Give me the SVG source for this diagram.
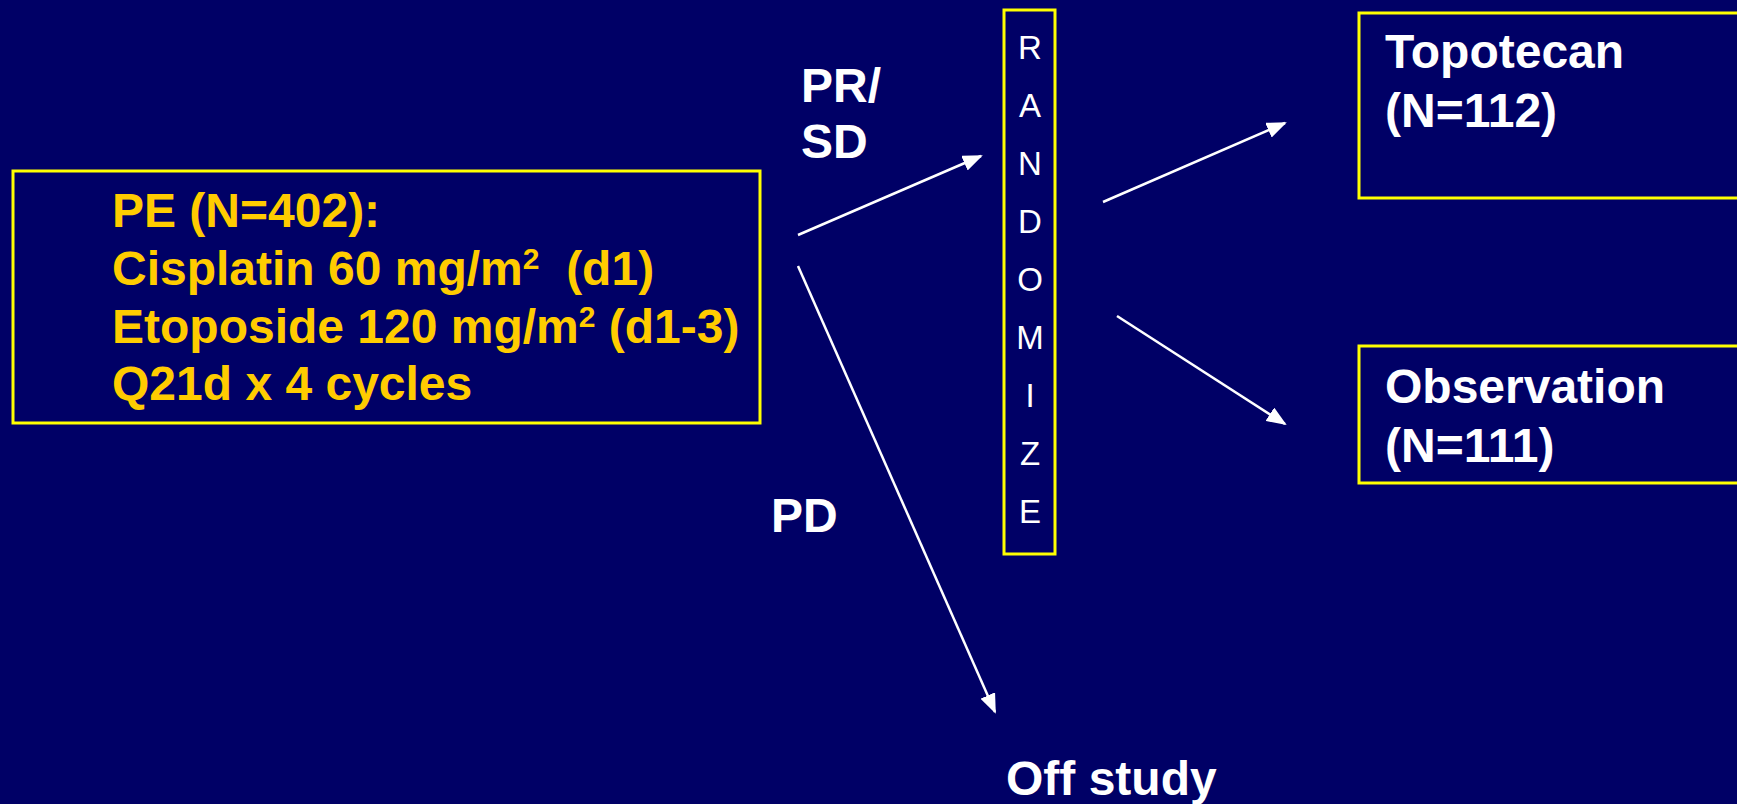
<svg xmlns="http://www.w3.org/2000/svg" width="1737" height="804" viewBox="0 0 1737 804">
<defs>
<style>
.box{fill:none;stroke:#FFFF00;stroke-width:3}
.y{font-family:"Liberation Sans",Arial,sans-serif;font-weight:bold;font-size:48px;fill:#FFCC00}
.w{font-family:"Liberation Sans",Arial,sans-serif;font-weight:bold;font-size:48px;fill:#FFFFFF}
.r{font-family:"Liberation Sans",Arial,sans-serif;font-size:33px;fill:#FFFFFF;text-anchor:middle}
.c{stroke:#FFFFFF;stroke-width:2.5;fill:none}
</style>
<marker id="ah" viewBox="0 0 20 16" refX="18" refY="8" markerWidth="20" markerHeight="16" markerUnits="userSpaceOnUse" orient="auto">
<path d="M0,0 L20,8 L0,16 z" fill="#FFFFFF"/>
</marker>
</defs>
<rect x="0" y="0" width="1737" height="804" fill="#000066"/>
<g id="pe">
<rect class="box" x="13" y="171" width="747" height="252"/>
<text class="y" x="112" y="227">PE (N=402):</text>
<text class="y" x="112" y="285" xml:space="preserve">Cisplatin 60 mg/m<tspan font-size="30" dy="-16">2</tspan><tspan dy="16">  (d1)</tspan></text>
<text class="y" x="112" y="343">Etoposide 120 mg/m<tspan font-size="30" dy="-16">2</tspan><tspan dy="16"> (d1-3)</tspan></text>
<text class="y" x="112" y="400">Q21d x 4 cycles</text>
</g>
<g id="randomize">
<rect class="box" x="1004" y="10" width="51" height="544"/>
<text class="r" x="1030" y="59">R</text>
<text class="r" x="1030" y="117">A</text>
<text class="r" x="1030" y="175">N</text>
<text class="r" x="1030" y="233">D</text>
<text class="r" x="1030" y="291">O</text>
<text class="r" x="1030" y="349">M</text>
<text class="r" x="1030" y="407">I</text>
<text class="r" x="1030" y="465">Z</text>
<text class="r" x="1030" y="523">E</text>
</g>
<g id="topotecan">
<rect class="box" x="1359" y="13" width="400" height="185"/>
<text class="w" x="1385" y="68">Topotecan</text>
<text class="w" x="1385" y="127">(N=112)</text>
</g>
<g id="observation">
<rect class="box" x="1359" y="346" width="400" height="137"/>
<text class="w" x="1385" y="403">Observation</text>
<text class="w" x="1385" y="462">(N=111)</text>
</g>
<g id="labels">
<text class="w" x="801" y="102">PR/</text>
<text class="w" x="801" y="158">SD</text>
<text class="w" x="771" y="532">PD</text>
</g>
<g id="offstudy">
<text class="w" x="1006" y="795">Off study</text>
</g>
<g id="connectors">
<line class="c" x1="798" y1="235" x2="981" y2="156" marker-end="url(#ah)"/>
<line class="c" x1="798" y1="266" x2="995" y2="712" marker-end="url(#ah)"/>
<line class="c" x1="1103" y1="202" x2="1285" y2="123" marker-end="url(#ah)"/>
<line class="c" x1="1117" y1="316" x2="1285" y2="424" marker-end="url(#ah)"/>
</g>
</svg>
